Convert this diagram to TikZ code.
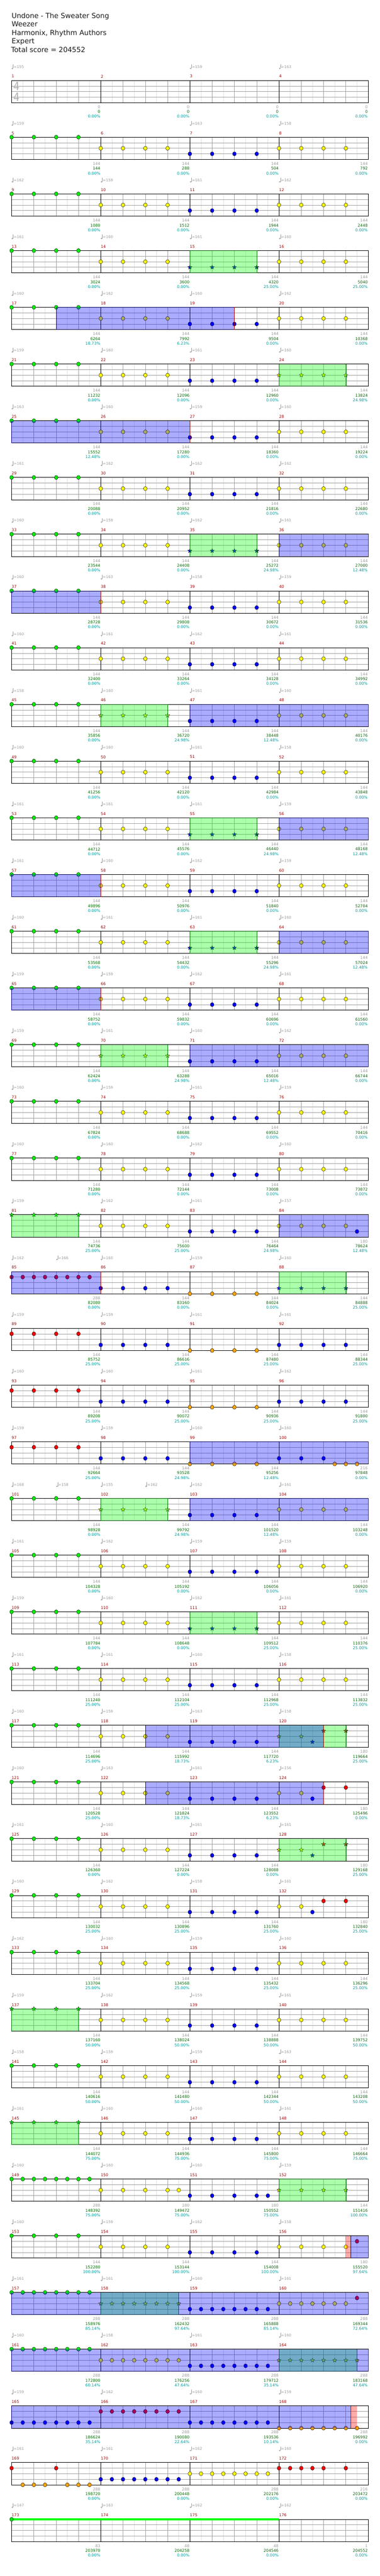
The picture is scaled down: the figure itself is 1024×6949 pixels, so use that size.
\documentclass[tikz,border=0pt]{standalone}
\usepackage{fontspec}
\setmainfont{DejaVu Sans}
\usetikzlibrary{shapes.geometric}

\definecolor{ngreen}{HTML}{00EE00}
\definecolor{nyellow}{HTML}{FFFF00}
\definecolor{nblue}{HTML}{0000FF}
\definecolor{nred}{HTML}{FF0000}
\definecolor{norange}{HTML}{FFA500}
\definecolor{tgray}{HTML}{999999}
\definecolor{mred}{HTML}{990000}
\definecolor{sgreen}{HTML}{006600}
\definecolor{steal}{HTML}{009999}
\definecolor{lanegray}{HTML}{A0A0A0}
\definecolor{eighthgray}{HTML}{E0E0E0}
\definecolor{sigray}{HTML}{B0B0B0}

\tikzset{eighth/.style={draw=eighthgray,line width=0.8pt}}
\tikzset{beat/.style={draw=lanegray,line width=0.8pt}}
\tikzset{lane/.style={draw=lanegray,line width=0.9pt}}
\tikzset{mbar/.style={draw=black,line width=0.8pt}}
\tikzset{staffframe/.style={draw=black,line width=1.2pt}}
\tikzset{note/.style={draw=black,line width=0.6pt}}
\tikzset{spnote/.style={star,star points=5,star point ratio=2.4,minimum size=12pt,inner sep=0pt,draw=black,line width=0.5pt}}
\tikzset{spgreen/.style={fill=green,fill opacity=0.33}}
\tikzset{spblue/.style={fill=blue,fill opacity=0.33}}
\tikzset{sppink/.style={fill=red,fill opacity=0.33}}
\tikzset{smalltext/.style={font=\fontsize{10.5}{12}\selectfont,inner sep=0pt}}
\tikzset{tempo/.style={smalltext,text=tgray,anchor=west,font=\fontsize{10}{12}\selectfont}}
\tikzset{mnum/.style={smalltext,text=mred,anchor=west}}
\tikzset{score/.style={smalltext,anchor=east}}
\tikzset{titletext/.style={anchor=base west,inner sep=0pt,font=\fontsize{18.8}{22}\selectfont,text=black!90}}

% x of an eighth (counted from the row start), y of a lane
\newcommand\xe[1]{31.3+30.031*(#1)}
\newcommand\yl[2]{217+153*(#1)+15*(#2-1)}

% row, measure, lane, colour, eighths
\newcommand\notes[5]{\foreach \e in {#5}{\draw[note,fill=#4] ({\xe{8*#2+\e}},{\yl{#1}{#3}}) ellipse (5 and 5.5);}}
\newcommand\stars[5]{\foreach \e in {#5}{\node[spnote,fill=#4] at ({\xe{8*#2+\e}},{\yl{#1}{#3}}) {};}}
\newcommand\quarters[4]{\notes{#1}{#2}{#3}{#4}{0,2,4,6}}
\newcommand\eighths[4]{\notes{#1}{#2}{#3}{#4}{0,...,7}}
\newcommand\stdrow[1]{\quarters{#1}{0}{1}{ngreen}\quarters{#1}{1}{3}{nyellow}\quarters{#1}{2}{4}{nblue}\quarters{#1}{3}{3}{nyellow}}

% row, from, to (eighths)
\newcommand\greenzone[3]{\path[spgreen] ({\xe{#2}},{217+153*#1}) rectangle ({\xe{#3}},{277+153*#1});
  \draw[green!45!black,line width=0.7pt] ({\xe{#2}},{217+153*#1}) -- ++(0,60) ({\xe{#3}},{217+153*#1}) -- ++(0,60);}
\newcommand\bluezone[3]{\path[spblue] ({\xe{#2}},{217+153*#1}) rectangle ({\xe{#3}},{277+153*#1});
  \draw[blue!50!black,line width=0.7pt] ({\xe{#2}},{217+153*#1}) -- ++(0,60);
  \draw[red!70!black,line width=0.6pt] ({\xe{#3}},{217+153*#1}) -- ++(0,60);}
\newcommand\pinkzone[3]{\path[sppink] ({\xe{#2}},{217+153*#1}) rectangle ({\xe{#3}},{277+153*#1});}

% row, eighth, bpm
\newcommand\tempo[3]{%
  \pgfmathsetmacro\tmpx{\xe{#2}}\pgfmathsetmacro\tmpy{217+153*(#1)-37}%
  \fill[tgray] (\tmpx+2,\tmpy+4.5) ellipse (2.2 and 1.7);
  \draw[tgray,line width=0.6pt] (\tmpx+4,\tmpy+4) -- (\tmpx+4,\tmpy-6.5);
  \node[tempo] (t#1-#2) at (\tmpx+5.5,\tmpy) {=#3};}

% row, list of points/total/percent
\newcommand\scorerow[2]{\foreach \vg/\vc/\vp [count=\m from 0] in {#2}{%
  \node[score,text=tgray] (g#1-\m) at ({\xe{8*\m+8}-1},{217+153*#1+71.5}) {\vg};
  \node[score,text=sgreen] (c#1-\m) at ({\xe{8*\m+8}-1},{217+153*#1+84.7}) {\vc};
  \node[score,text=steal] (p#1-\m) at ({\xe{8*\m+8}-1},{217+153*#1+97.4}) {\vp\%};}}

\begin{document}
\begin{tikzpicture}[x=1pt,y=-1pt]
\useasboundingbox (0,0) rectangle (1024,6949);
\fill[white] (0,0) rectangle (1024,6949);

% heading
\node[titletext] (song) at (31.3,49.3) {Undone - The Sweater Song};
\node[titletext] (band) at (31.3,71.7) {Weezer};
\node[titletext] (charter) at (31.3,95) {Harmonix, Rhythm Authors};
\node[titletext] (level) at (31.3,117.3) {Expert};
\node[titletext] (total) at (30,140.7) {Total score = 204552};

% staves
\foreach \r in {0,...,43}{
  \pgfmathsetmacro\rowtop{217+153*\r}
  \foreach \i in {1,3,...,31} \draw[eighth] ({\xe{\i}},\rowtop) -- ++(0,60);
  \foreach \i in {2,4,6,10,12,14,18,20,22,26,28,30} \draw[beat] ({\xe{\i}},\rowtop) -- ++(0,60);
  \foreach \k in {1,2,3} \draw[lane] (31.3,\rowtop+15*\k) -- ++(961,0);
  \foreach \i in {8,16,24} \draw[mbar] ({\xe{\i}},\rowtop) -- ++(0,60);
  \draw[staffframe] (31.3,\rowtop) rectangle ++(961,60);
  \foreach \m in {0,...,3}{\pgfmathtruncatemacro\mn{4*\r+\m+1}
    \node[mnum] (m\mn) at ({\xe{8*\m}},\rowtop-11) {\mn};}
}
\node[inner sep=0pt,text=sigray,font=\fontsize{31}{31}\selectfont] (sigtop) at (44.5,233) {\scalebox{0.85}[1]{4}};
\node[inner sep=0pt,text=sigray,font=\fontsize{31}{31}\selectfont] (sigbot) at (44.5,262) {\scalebox{0.85}[1]{4}};

% notes
\foreach \r in {1,2,4,6,7,9,10,12,14,16,18,19,26,28,33,35,38}{\stdrow{\r}}
\foreach \r in {3,8,13,15,27}{\quarters{\r}{0}{1}{ngreen}\quarters{\r}{1}{3}{nyellow}\stars{\r}{2}{4}{nblue}{0,2,4,6}\quarters{\r}{3}{3}{nyellow}}
\foreach \r in {11,17,25}{\quarters{\r}{0}{1}{ngreen}\stars{\r}{1}{3}{nyellow}{0,2,4,6}\quarters{\r}{2}{4}{nblue}\quarters{\r}{3}{3}{nyellow}}
\quarters{5}{0}{1}{ngreen}\quarters{5}{1}{3}{nyellow}\quarters{5}{2}{4}{nblue}\stars{5}{3}{3}{nyellow}{0,2,4,6}
\foreach \r in {20,34,36}{\stars{\r}{0}{1}{ngreen}{0,2,4,6}\quarters{\r}{1}{3}{nyellow}\quarters{\r}{2}{4}{nblue}\quarters{\r}{3}{3}{nyellow}}
\notes{20}{3}{4}{nblue}{7}
\eighths{21}{0}{2}{nred}\quarters{21}{1}{4}{nblue}\quarters{21}{2}{5}{norange}\stars{21}{3}{4}{nblue}{0,2,4,6}
\foreach \r in {22,23}{\quarters{\r}{0}{2}{nred}\quarters{\r}{1}{4}{nblue}\quarters{\r}{2}{5}{norange}\quarters{\r}{3}{4}{nblue}}
\quarters{24}{0}{2}{nred}\quarters{24}{1}{4}{nblue}\quarters{24}{2}{5}{norange}\notes{24}{3}{4}{nblue}{0,2,4}\notes{24}{3}{5}{norange}{5,6,7}
\foreach \r in {29,30,31,32}{\quarters{\r}{0}{1}{ngreen}\quarters{\r}{1}{3}{nyellow}\quarters{\r}{2}{4}{nblue}}
\foreach \r in {29,31}{\stars{\r}{3}{3}{nyellow}{0,2}\stars{\r}{3}{4}{nblue}{3}\stars{\r}{3}{2}{nred}{4,6}}
\foreach \r in {30,32}{\notes{\r}{3}{3}{nyellow}{0,2}\notes{\r}{3}{4}{nblue}{3}\notes{\r}{3}{2}{nred}{4,6}}
\eighths{37}{0}{1}{ngreen}\notes{37}{1}{3}{nyellow}{0,2,4,6,7}\notes{37}{2}{4}{nblue}{0,2,4,6,7}\stars{37}{3}{3}{nyellow}{0,2,4,6}
\notes{38}{3}{2}{nred}{7}
\eighths{39}{0}{1}{ngreen}\stars{39}{1}{3}{nyellow}{0,...,7}\eighths{39}{2}{4}{nblue}\notes{39}{3}{3}{nyellow}{0,...,6}\notes{39}{3}{2}{nred}{7}
\eighths{40}{0}{1}{ngreen}\eighths{40}{1}{3}{nyellow}\eighths{40}{2}{4}{nblue}\stars{40}{3}{3}{nyellow}{0,...,7}
\eighths{41}{0}{4}{nblue}\eighths{41}{1}{2}{nred}\eighths{41}{2}{4}{nblue}\eighths{41}{3}{5}{norange}
\notes{42}{0}{2}{nred}{0,4}\notes{42}{0}{5}{norange}{1,2,3,5,6,7}\eighths{42}{1}{4}{nblue}\eighths{42}{2}{3}{nyellow}\notes{42}{3}{2}{nred}{0,1,2,3,4,6}
\draw[green,line width=5pt] ({\xe{0}},{\yl{43}{1}}) -- ({\xe{24}},{\yl{43}{1}});
\notes{43}{0}{1}{ngreen}{0}

% star power phrases
\foreach \r/\a/\b in {3/16/22,5/24/30,8/16/22,11/8/14,13/16/22,15/16/22,17/8/14,20/0/6,21/24/30,25/8/14,27/16/22,29/24/30,31/24/30,34/0/6,36/0/6,37/24/30,39/8/15,40/24/31}{\greenzone{\r}{\a}{\b}}
% star power in use
\foreach \r/\a/\b in {4/4/20,6/0/16,8/24/32,9/0/8,11/16/32,13/24/32,14/0/8,15/24/32,16/0/8,17/16/32,20/24/32,21/0/8,24/16/32,25/16/32,29/12/28,30/12/28,38/30.43/32,39/0/32,40/0/32,41/0/30.43}{\bluezone{\r}{\a}{\b}}
\pinkzone{38}{30}{30.43}
\pinkzone{41}{30.43}{31}

% tempo marks
\tempo{0}{0}{155}\tempo{0}{16}{159}\tempo{0}{24}{163}
\tempo{1}{0}{159}\tempo{1}{16}{163}\tempo{1}{24}{158}
\tempo{21}{0}{162}\tempo{21}{4}{166}\tempo{21}{8}{160}\tempo{21}{16}{159}\tempo{21}{24}{160}
\tempo{25}{0}{168}\tempo{25}{4}{158}\tempo{25}{8}{155}\tempo{25}{12}{162}\tempo{25}{16}{162}\tempo{25}{24}{161}
\foreach \r/\ta/\tb/\tc/\td in {2/162/159/161/162,3/161/160/161/160,4/160/162/160/162,5/159/160/161/160,
  6/163/160/159/160,7/161/162/162/162,8/160/159/162/161,9/160/163/158/159,10/160/161/162/161,
  11/158/160/161/160,12/160/160/161/158,13/161/161/161/159,14/161/160/162/159,15/160/161/161/160,
  16/159/159/162/161,17/159/161/160/162,18/160/159/161/159,19/160/160/162/160,20/159/162/161/157,
  22/159/159/161/161,23/160/160/161/162,24/159/159/160/160,26/161/162/159/159,27/159/160/162/161,
  28/161/161/160/158,29/160/159/163/158,30/160/163/161/156,31/161/160/161/161,32/160/162/158/161,
  33/162/160/159/160,34/159/162/159/161,35/158/159/159/163,36/161/160/160/161,37/160/160/160/159,
  38/160/159/162/158,39/161/161/160/161,40/160/158/161/160,41/159/162/160/159,42/161/161/162/160,
  43/147/163/162/162}{\tempo{\r}{0}{\ta}\tempo{\r}{8}{\tb}\tempo{\r}{16}{\tc}\tempo{\r}{24}{\td}}

% scores
\scorerow{0}{0/0/0.00,0/0/0.00,0/0/0.00,0/0/0.00}
\scorerow{1}{144/144/0.00,144/288/0.00,144/504/0.00,144/792/0.00}
\scorerow{2}{144/1080/0.00,144/1512/0.00,144/1944/0.00,144/2448/0.00}
\scorerow{3}{144/3024/0.00,144/3600/0.00,144/4320/25.00,144/5040/25.00}
\scorerow{4}{144/6264/18.73,144/7992/6.23,144/9504/0.00,144/10368/0.00}
\scorerow{5}{144/11232/0.00,144/12096/0.00,144/12960/0.00,144/13824/24.98}
\scorerow{6}{144/15552/12.48,144/17280/0.00,144/18360/0.00,144/19224/0.00}
\scorerow{7}{144/20088/0.00,144/20952/0.00,144/21816/0.00,144/22680/0.00}
\scorerow{8}{144/23544/0.00,144/24408/0.00,144/25272/24.98,144/27000/12.48}
\scorerow{9}{144/28728/0.00,144/29808/0.00,144/30672/0.00,144/31536/0.00}
\scorerow{10}{144/32400/0.00,144/33264/0.00,144/34128/0.00,144/34992/0.00}
\scorerow{11}{144/35856/0.00,144/36720/24.98,144/38448/12.48,144/40176/0.00}
\scorerow{12}{144/41256/0.00,144/42120/0.00,144/42984/0.00,144/43848/0.00}
\scorerow{13}{144/44712/0.00,144/45576/0.00,144/46440/24.98,144/48168/12.48}
\scorerow{14}{144/49896/0.00,144/50976/0.00,144/51840/0.00,144/52704/0.00}
\scorerow{15}{144/53568/0.00,144/54432/0.00,144/55296/24.98,144/57024/12.48}
\scorerow{16}{144/58752/0.00,144/59832/0.00,144/60696/0.00,144/61560/0.00}
\scorerow{17}{144/62424/0.00,144/63288/24.98,144/65016/12.48,144/66744/0.00}
\scorerow{18}{144/67824/0.00,144/68688/0.00,144/69552/0.00,144/70416/0.00}
\scorerow{19}{144/71280/0.00,144/72144/0.00,144/73008/0.00,144/73872/0.00}
\scorerow{20}{144/74736/25.00,144/75600/25.00,144/76464/24.98,180/78624/12.48}
\scorerow{21}{288/82080/0.00,144/83160/0.00,144/84024/0.00,144/84888/25.00}
\scorerow{22}{144/85752/25.00,144/86616/25.00,144/87480/25.00,144/88344/25.00}
\scorerow{23}{144/89208/25.00,144/90072/25.00,144/90936/25.00,144/91800/25.00}
\scorerow{24}{144/92664/25.00,144/93528/24.98,144/95256/12.48,216/97848/0.00}
\scorerow{25}{144/98928/0.00,144/99792/24.98,144/101520/12.48,144/103248/0.00}
\scorerow{26}{144/104328/0.00,144/105192/0.00,144/106056/0.00,144/106920/0.00}
\scorerow{27}{144/107784/0.00,144/108648/0.00,144/109512/25.00,144/110376/25.00}
\scorerow{28}{144/111240/25.00,144/112104/25.00,144/112968/25.00,144/113832/25.00}
\scorerow{29}{144/114696/25.00,144/115992/18.73,144/117720/6.23,180/119664/25.00}
\scorerow{30}{144/120528/25.00,144/121824/18.73,144/123552/6.23,180/125496/0.00}
\scorerow{31}{144/126360/0.00,144/127224/0.00,144/128088/0.00,180/129168/25.00}
\scorerow{32}{144/130032/25.00,144/130896/25.00,144/131760/25.00,180/132840/25.00}
\scorerow{33}{144/133704/25.00,144/134568/25.00,144/135432/25.00,144/136296/25.00}
\scorerow{34}{144/137160/50.00,144/138024/50.00,144/138888/50.00,144/139752/50.00}
\scorerow{35}{144/140616/50.00,144/141480/50.00,144/142344/50.00,144/143208/50.00}
\scorerow{36}{144/144072/75.00,144/144936/75.00,144/145800/75.00,144/146664/75.00}
\scorerow{37}{288/148392/75.00,180/149472/75.00,180/150552/75.00,144/151416/100.00}
\scorerow{38}{144/152280/100.00,144/153144/100.00,144/154008/100.00,180/155520/97.64}
\scorerow{39}{288/158976/85.14,288/162432/97.64,288/165888/85.14,288/169344/72.64}
\scorerow{40}{288/172800/60.14,288/176256/47.64,288/179712/35.14,288/183168/47.64}
\scorerow{41}{288/186624/35.14,288/190080/22.64,288/193536/10.14,288/196992/0.00}
\scorerow{42}{288/198720/0.00,288/200448/0.00,288/202176/0.00,216/203472/0.00}
\scorerow{43}{83/203970/0.00,48/204258/0.00,48/204546/0.00,1/204552/0.00}
\end{tikzpicture}
\end{document}
